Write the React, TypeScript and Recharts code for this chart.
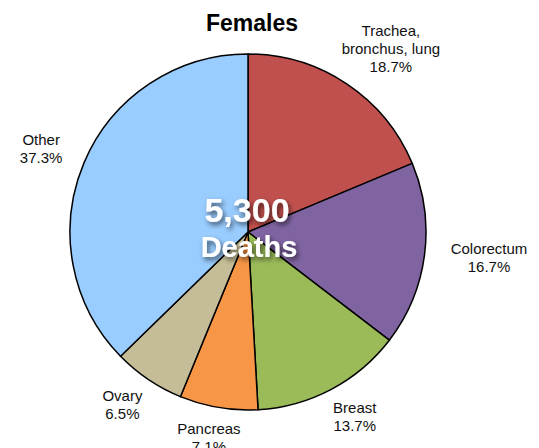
import { Cell, Pie, PieChart } from "recharts";

const sites = ["Trachea,\nbronchus, lung", "Colorectum", "Breast", "Pancreas", "Ovary", "Other"];
const shares = [18.7, 16.7, 13.7, 7.1, 6.5, 37.3];
const colors = ["#C0504D", "#8064A2", "#9BBB59", "#F79646", "#C4BD97", "#99CCFF"];
const title = "Females";
const totalLabel = ["5,300", "Deaths"];

const data = sites.map((name, i) => ({ name, value: shares[i] }));

const RAD = Math.PI / 180;
const FONT = "'Liberation Sans', Arial, Helvetica, sans-serif";
const LINE = 18;

// labels sit on an ellipse round the pie, pushed out by half their box
const renderLabel = (props: any) => {
  const { cx, cy, midAngle, outerRadius, index } = props;
  const lines = [...sites[index].split("\n"), `${shares[index].toFixed(1)}%`];
  const w = Math.max(...lines.map((l) => l.length)) * 7.4;
  const h = lines.length * LINE;
  const rx = outerRadius + 28;
  const ry = outerRadius + 14;
  const cos = Math.cos(midAngle * RAD);
  const sin = Math.sin(midAngle * RAD);
  const x = cx + (rx + w / 2) * cos;
  const y = cy - (ry + h / 2) * sin;
  return (
    <text x={x} y={y - h / 2} textAnchor="middle" fontFamily={FONT} fontSize={15} fill="#111">
      {lines.map((l, i) => (
        <tspan key={i} x={x} y={y - h / 2 + LINE * i + 13}>
          {l}
        </tspan>
      ))}
    </text>
  );
};

export default function App() {
  return (
    <div style={{ position: "absolute", left: 0, top: 0, width: 539, height: 448, background: "#fff" }}>
      <PieChart width={539} height={448} margin={{ top: 0, right: 0, bottom: 0, left: 0 }}>
        <Pie
          data={data}
          dataKey="value"
          nameKey="name"
          cx={248}
          cy={232}
          outerRadius={178}
          startAngle={90}
          endAngle={-270}
          stroke="#000"
          strokeWidth={1.5}
          label={renderLabel}
          labelLine={false}
          isAnimationActive={false}
        >
          {data.map((d, i) => (
            <Cell key={d.name} fill={colors[i]} />
          ))}
        </Pie>
      </PieChart>
      <svg width={539} height={448} style={{ position: "absolute", left: 0, top: 0, pointerEvents: "none" }}>
        <defs>
          <filter id="shadow" x="-20%" y="-20%" width="140%" height="160%">
            <feDropShadow dx="2" dy="3" stdDeviation="2.5" floodColor="#000" floodOpacity="0.6" />
          </filter>
        </defs>
        <text x={252} y={31} textAnchor="middle" fontFamily={FONT} fontWeight="bold" fontSize={23} fill="#000">
          {title}
        </text>
        <g filter="url(#shadow)" fontFamily={FONT} fontWeight="bold" fill="#fff" textAnchor="middle">
          <text x={247} y={222} fontSize={34}>
            {totalLabel[0]}
          </text>
          <text x={249} y={257} fontSize={29}>
            {totalLabel[1]}
          </text>
        </g>
      </svg>
    </div>
  );
}
